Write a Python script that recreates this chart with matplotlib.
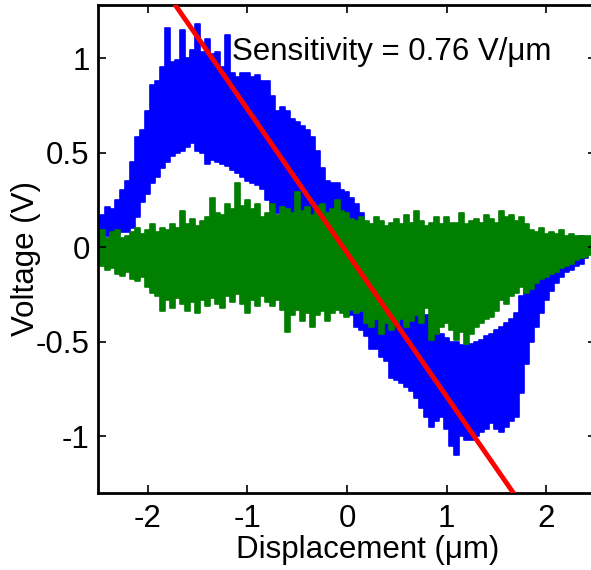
import numpy as np
import matplotlib
matplotlib.use("Agg")
import matplotlib.pyplot as plt

# sample grid of the displacement scan (um), 0.05 um steps
displacement = np.round(np.arange(-2.5, 2.5001, 0.05), 2)

# envelopes (V), one value per grid point
blue_upper = [
    0.14, 0.17, 0.21, 0.20, 0.25, 0.30, 0.35, 0.45, 0.58, 0.62,
    0.72, 0.86, 0.88, 0.95, 1.16, 0.98, 0.99, 1.15, 1.00, 1.04,
    1.18, 1.03, 1.10, 1.02, 1.03, 0.95, 1.12, 0.92, 0.90, 0.92,
    0.92, 0.90, 0.91, 0.88, 0.88, 0.80, 0.72, 0.74, 0.72, 0.68,
    0.66, 0.64, 0.62, 0.58, 0.51, 0.42, 0.35, 0.34, 0.34, 0.30,
    0.29, 0.26, 0.23, 0.18, 0.12, 0.08, 0.04, 0.00, -0.04, -0.08,
    -0.12, -0.16, -0.20, -0.24, -0.28, -0.32, -0.36, -0.40, -0.44, -0.46,
    -0.48, -0.50, -0.50, -0.52, -0.52, -0.51, -0.50, -0.49, -0.47, -0.46,
    -0.44, -0.42, -0.40, -0.38, -0.35, -0.26, -0.22, -0.20, -0.18, -0.16,
    -0.14, -0.12, -0.10, -0.08, -0.06, -0.04, 0.00, 0.06, 0.05, 0.04,
    0.04,
]
blue_lower = [
    0.04, 0.05, 0.06, 0.06, 0.07, 0.08, 0.08, 0.10, 0.16, 0.24,
    0.28, 0.34, 0.37, 0.42, 0.45, 0.48, 0.50, 0.51, 0.53, 0.55,
    0.51, 0.50, 0.44, 0.46, 0.45, 0.44, 0.43, 0.41, 0.39, 0.37,
    0.35, 0.34, 0.33, 0.31, 0.25, 0.20, 0.18, 0.16, 0.14, 0.12,
    0.10, 0.06, 0.02, -0.02, -0.06, -0.10, -0.14, -0.18, -0.22, -0.26,
    -0.30, -0.36, -0.42, -0.44, -0.47, -0.54, -0.54, -0.58, -0.60, -0.69,
    -0.70, -0.72, -0.74, -0.76, -0.80, -0.85, -0.90, -0.95, -0.92, -0.90,
    -0.96, -1.05, -1.10, -1.00, -1.02, -1.02, -1.00, -0.98, -0.96, -0.93,
    -0.96, -0.98, -0.95, -0.92, -0.90, -0.77, -0.62, -0.50, -0.42, -0.35,
    -0.28, -0.23, -0.19, -0.16, -0.13, -0.12, -0.10, -0.09, -0.06, -0.03,
    -0.03,
]
green_upper = [
    0.07, 0.09, 0.05, 0.08, 0.09, 0.05, 0.06, 0.08, 0.10, 0.07,
    0.09, 0.12, 0.08, 0.10, 0.09, 0.12, 0.10, 0.19, 0.12, 0.15,
    0.11, 0.14, 0.16, 0.26, 0.18, 0.17, 0.23, 0.20, 0.34, 0.22,
    0.25, 0.20, 0.23, 0.16, 0.18, 0.23, 0.17, 0.21, 0.20, 0.18,
    0.29, 0.19, 0.21, 0.17, 0.22, 0.23, 0.18, 0.20, 0.25, 0.19,
    0.18, 0.15, 0.14, 0.16, 0.14, 0.12, 0.16, 0.14, 0.11, 0.13,
    0.15, 0.12, 0.17, 0.13, 0.19, 0.14, 0.11, 0.13, 0.16, 0.12,
    0.16, 0.13, 0.13, 0.18, 0.12, 0.14, 0.15, 0.13, 0.17, 0.15,
    0.13, 0.19, 0.16, 0.17, 0.14, 0.16, 0.12, 0.09, 0.08, 0.10,
    0.07, 0.08, 0.07, 0.09, 0.06, 0.07, 0.06, 0.06, 0.06, 0.06,
    0.05,
]
green_lower = [
    -0.07, -0.10, -0.12, -0.11, -0.14, -0.15, -0.13, -0.17, -0.18, -0.16,
    -0.21, -0.24, -0.26, -0.34, -0.28, -0.32, -0.27, -0.30, -0.34, -0.29,
    -0.35, -0.28, -0.31, -0.27, -0.30, -0.32, -0.26, -0.29, -0.25, -0.30,
    -0.35, -0.28, -0.31, -0.26, -0.29, -0.31, -0.28, -0.33, -0.45, -0.36,
    -0.33, -0.39, -0.35, -0.42, -0.36, -0.34, -0.39, -0.35, -0.33, -0.35,
    -0.37, -0.33, -0.35, -0.34, -0.40, -0.42, -0.38, -0.46, -0.40, -0.44,
    -0.41, -0.38, -0.42, -0.39, -0.36, -0.40, -0.32, -0.49, -0.46, -0.42,
    -0.40, -0.44, -0.49, -0.45, -0.51, -0.46, -0.42, -0.40, -0.38, -0.37,
    -0.34, -0.28, -0.30, -0.26, -0.24, -0.21, -0.24, -0.22, -0.19, -0.17,
    -0.16, -0.14, -0.13, -0.11, -0.10, -0.09, -0.07, -0.06, -0.05, -0.04,
    -0.04,
]

# linear fit through the blue trace
fit_slope = -0.76
fit_offset = -0.03

x_ticks = [-2, -1, 0, 1, 2]
y_ticks = [-1, -0.5, 0, 0.5, 1]
y_tick_labels = ["-1", "-0.5", "0", "0.5", "1"]

plt.rcParams["font.family"] = ["Liberation Sans", "DejaVu Sans"]
plt.rcParams["axes.unicode_minus"] = False

fig = plt.figure(figsize=(5.91, 5.70), dpi=100)
# right edge of the box falls just outside the picture
ax = fig.add_axes([0.1658, 0.1351, 0.8426, 0.856])

# step="mid" gives the comb-like spikes of the sampled traces
ax.fill_between(displacement, blue_lower, blue_upper, step="mid", color="#0000ff", lw=1.2)
ax.fill_between(displacement, green_lower, green_upper, step="mid", color="#007f00", lw=1.2)
fit_x = np.array([displacement[0], displacement[-1]])
ax.plot(fit_x, fit_slope * fit_x + fit_offset, color="#ff0000", lw=3.5, zorder=3)

ax.text(-1.15, 1.03, "Sensitivity = 0.76 V/\u03bcm", fontsize=22.5, ha="left", va="center")

ax.set_xlim(-2.5, 2.5)
ax.set_ylim(-1.3, 1.28)
ax.set_xticks(x_ticks)
ax.set_xticklabels([str(t) for t in x_ticks])
ax.set_yticks(y_ticks)
ax.set_yticklabels(y_tick_labels)
ax.tick_params(direction="in", length=5.5, width=1.2, top=True, right=True, labelsize=22.5, pad=6)
ax.tick_params(axis="x", pad=8)
for s in ax.spines.values():
    s.set_linewidth(2.0)

ax.set_xlabel("Displacement (\u03bcm)", fontsize=22.5, labelpad=1)
ax.xaxis.label.set_x(0.542)
ax.set_ylabel("Voltage (V)", fontsize=22.5)
ax.yaxis.set_label_coords(-0.114, 0.48)

fig.savefig("out.png", dpi=100)
